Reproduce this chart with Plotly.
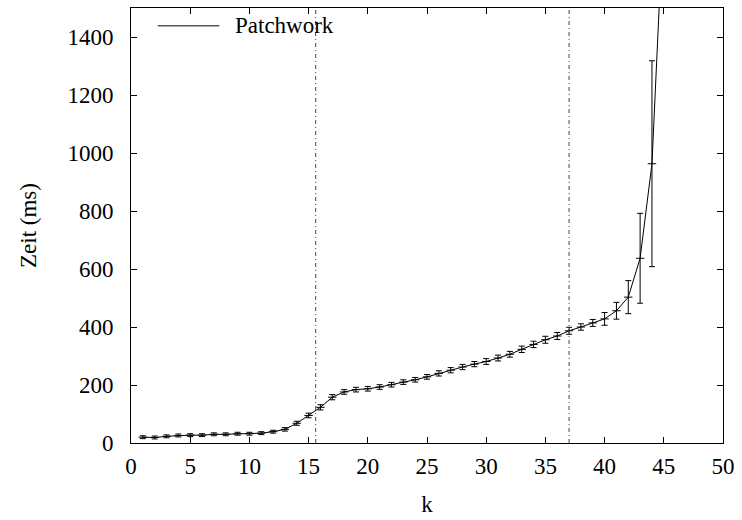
import plotly.graph_objects as go

# Laufzeit pro k (Mittelwert und Standardabweichung in ms)
k = list(range(1, 46))
zeit = [20, 19, 23, 26, 27, 27, 30, 30, 32, 32,
        34, 39, 47, 68, 95, 123, 158, 176, 184, 187,
        193, 201, 210, 218, 228, 240, 251, 262, 272, 281,
        293, 306, 323, 340, 356, 369, 387, 400, 414, 428,
        456, 503, 637, 963, 1850]
fehler = [5, 5, 5, 5, 5, 5, 5, 5, 5, 5,
          5, 5, 6, 7, 8, 9, 9, 8, 8, 8,
          8, 8, 8, 8, 8, 9, 9, 9, 9, 10,
          10, 10, 11, 11, 12, 12, 12, 11, 12, 22,
          29, 57, 155, 355, 300]

# Grenzen der Bereiche (senkrechte Strich-Punkt-Linien)
grenzen = [15.6, 37.0]

x_ticks = list(range(0, 51, 5))
y_ticks = list(range(0, 1401, 200))

FONT = "Liberation Serif"
FS = 23

fig = go.Figure()
fig.add_trace(go.Scatter(
    x=k, y=zeit, mode="lines+markers", name="Patchwork",
    line=dict(color="black", width=1),
    marker=dict(symbol="line-ew-open", size=6, color="black",
                line=dict(color="black", width=1)),
    error_y=dict(type="data", array=fehler, symmetric=True,
                 width=3, thickness=1, color="black"),
    showlegend=False,
))

for g in grenzen:
    fig.add_shape(type="line", xref="x", yref="paper", x0=g, x1=g, y0=0, y1=1,
                  line=dict(color="#444444", width=1, dash="4px,3px,1px,3px"))

# Legende
fig.add_shape(type="line", xref="paper", yref="paper",
              x0=0.0453, x1=0.1493, y0=0.959, y1=0.959,
              line=dict(color="black", width=1))
fig.add_annotation(xref="paper", yref="paper", x=0.1725, y=0.959,
                   text="Patchwork", showarrow=False, xanchor="left", yanchor="middle",
                   font=dict(family=FONT, size=FS, color="black"))

axis_common = dict(
    showline=True, linecolor="black", linewidth=1, mirror="ticks",
    ticks="inside", ticklen=6, tickwidth=1, tickcolor="black",
    showgrid=False, zeroline=False,
    tickfont=dict(family=FONT, size=FS, color="black"),
)

fig.update_xaxes(range=[0, 50], tickvals=x_ticks, ticklabelstandoff=2,
                 title=dict(text="k", font=dict(family=FONT, size=FS, color="black"), standoff=18),
                 **axis_common)
fig.update_yaxes(range=[0, 1500], tickvals=y_ticks, ticklabelstandoff=12,
                 title=dict(text="Zeit (ms)", font=dict(family=FONT, size=FS, color="black"), standoff=24),
                 **axis_common)

fig.update_layout(
    width=742, height=520,
    margin=dict(l=131, r=15, t=7, b=74),
    paper_bgcolor="white", plot_bgcolor="white",
    font=dict(family=FONT, color="black"),
)

fig.write_html("out.html")
